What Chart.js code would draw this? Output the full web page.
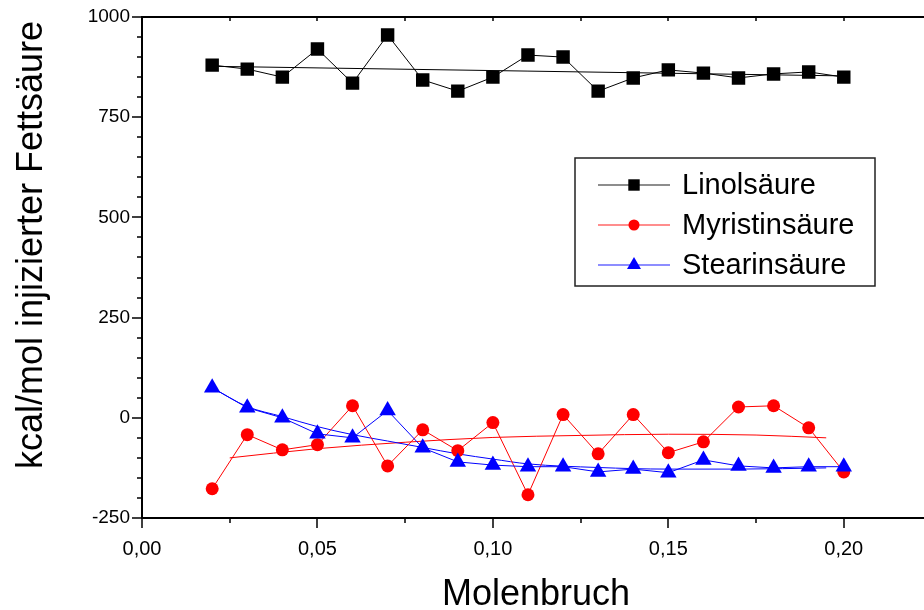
<!DOCTYPE html>
<html>
<head>
<meta charset="utf-8">
<script src="https://cdn.jsdelivr.net/npm/chart.js@4.4.0/dist/chart.umd.min.js"></script>
<style>
  html, body { margin: 0; padding: 0; background: #fff; overflow: hidden; }
  #chart { display: block; }
</style>
</head>
<body>
<canvas id="chart" width="941" height="610"></canvas>
<script>
const FONT = '"Liberation Sans", Arial, sans-serif';

// measured points
const molFraction = [0.02, 0.03, 0.04, 0.05, 0.06, 0.07, 0.08, 0.09, 0.10, 0.11,
                     0.12, 0.13, 0.14, 0.15, 0.16, 0.17, 0.18, 0.19, 0.20];
const linol    = [880, 870, 850, 920, 835, 955, 843, 815, 850, 905,
                  900, 815, 848, 868, 860, 848, 858, 863, 850];
const myristin = [-177, -42, -80, -67, 30, -120, -30, -82, -12, -192,
                  8, -90, 8, -87, -60, 27, 30, -25, -135];
const stearin  = [75, 25, 0, -40, -50, 18, -75, -110, -118, -122,
                  -122, -135, -128, -137, -105, -120, -125, -122, -122];

// fitted curves
const linolFitX = [0.02, 0.20];
const linolFitY = [877, 853];
const myristinFitX = [0.025, 0.05, 0.075, 0.10, 0.125, 0.15, 0.175, 0.195];
const myristinFitY = [-100, -77, -61, -49, -44, -41, -43, -50];
const stearinFitX = [0.02, 0.03, 0.04, 0.05, 0.06, 0.07, 0.08, 0.09, 0.10, 0.11, 0.13, 0.15, 0.17, 0.195];
const stearinFitY = [75, 28, 3, -22, -42, -58, -74, -90, -103, -115, -124, -128, -128, -125];

const seriesNames = ['Linolsäure', 'Myristinsäure', 'Stearinsäure'];
const xTitle = 'Molenbruch';
const yTitle = 'kcal/mol injizierter Fettsäure';

const pts = (xs, ys) => xs.map((x, i) => ({ x: x, y: ys[i] }));
const isMult = (v, step) => Math.abs(v / step - Math.round(v / step)) < 1e-6;

function dataset(label, xs, ys, color, style, radius, order) {
  return {
    label: label,
    data: pts(xs, ys),
    borderColor: color,
    backgroundColor: color,
    borderWidth: 1,
    pointStyle: style,
    pointRadius: radius,
    pointBorderWidth: 0,
    tension: 0,
    order: order
  };
}

function fitLine(xs, ys, color, order) {
  return {
    label: '',
    data: pts(xs, ys),
    borderColor: color,
    borderWidth: 1,
    pointRadius: 0,
    cubicInterpolationMode: 'monotone',
    order: order,
    isFit: true
  };
}

// axis lines, inner/outer ticks and titles
const framePlugin = {
  id: 'frame',
  afterDatasetsDraw(chart) {
    const { ctx, chartArea: a, scales: { x, y } } = chart;
    ctx.save();
    ctx.strokeStyle = '#000';
    ctx.lineWidth = 2;
    ctx.beginPath();
    ctx.moveTo(a.left, a.top - 1);
    ctx.lineTo(a.left, a.bottom + 1);
    ctx.moveTo(a.left - 1, a.bottom);
    ctx.lineTo(a.right, a.bottom);
    ctx.moveTo(a.left - 1, a.top);
    ctx.lineTo(a.right, a.top);
    ctx.stroke();

    ctx.lineWidth = 1.5;
    ctx.beginPath();
    y.ticks.forEach(t => {
      const py = Math.round(y.getPixelForValue(t.value));
      const len = isMult(t.value, 250) ? 10 : 5;
      ctx.moveTo(a.left - len, py);
      ctx.lineTo(a.left, py);
    });
    x.ticks.forEach(t => {
      const px = Math.round(x.getPixelForValue(t.value));
      const len = isMult(t.value, 0.05) ? 10 : 5;
      ctx.moveTo(px, a.bottom);
      ctx.lineTo(px, a.bottom + len);
      ctx.moveTo(px, a.top);
      ctx.lineTo(px, a.top + 4);
    });
    ctx.stroke();

    ctx.fillStyle = '#000';
    ctx.font = '36px ' + FONT;
    ctx.textAlign = 'center';
    ctx.textBaseline = 'alphabetic';
    ctx.fillText(xTitle, 536, 605);

    ctx.translate(42, 245);
    ctx.rotate(-Math.PI / 2);
    ctx.fillText(yTitle, 0, 0);
    ctx.restore();
  }
};

// boxed legend inside the plot
const legendBox = {
  id: 'legendBox',
  afterDraw(chart) {
    const { ctx } = chart;
    const box = { left: 575, top: 158, width: 300, height: 128 };
    ctx.save();
    ctx.fillStyle = '#fff';
    ctx.fillRect(box.left, box.top, box.width, box.height);
    ctx.strokeStyle = '#222';
    ctx.lineWidth = 1.5;
    ctx.strokeRect(box.left, box.top, box.width, box.height);

    ctx.font = '29px ' + FONT;
    ctx.textAlign = 'left';
    ctx.textBaseline = 'middle';
    const items = chart.data.datasets.filter(d => !d.isFit);
    items.forEach((d, i) => {
      const cy = box.top + 27 + i * 40;
      ctx.strokeStyle = d.borderColor;
      ctx.globalAlpha = 0.6;
      ctx.lineWidth = 1.5;
      ctx.beginPath();
      ctx.moveTo(box.left + 23, cy);
      ctx.lineTo(box.left + 95, cy);
      ctx.stroke();
      ctx.globalAlpha = 1;
      ctx.fillStyle = d.backgroundColor;
      Chart.helpers.drawPoint(ctx, {
        pointStyle: d.pointStyle,
        radius: d.pointRadius * 0.85,
        borderWidth: 0,
        rotation: 0
      }, box.left + 59, cy);
      ctx.fillStyle = '#000';
      ctx.fillText(d.label, box.left + 107, cy + 1);
    });
    ctx.restore();
  }
};

new Chart(document.getElementById('chart'), {
  type: 'line',
  data: {
    datasets: [
      dataset(seriesNames[0], molFraction, linol, '#000000', 'rect', 9.5, 3),
      dataset(seriesNames[1], molFraction, myristin, '#ff0000', 'circle', 6.5, 2),
      dataset(seriesNames[2], molFraction, stearin, '#0000ff', 'triangle', 9.5, 1),
      fitLine(linolFitX, linolFitY, '#000000', 6),
      fitLine(myristinFitX, myristinFitY, '#ff0000', 5),
      fitLine(stearinFitX, stearinFitY, '#0000ff', 4)
    ]
  },
  options: {
    responsive: false,
    animation: false,
    layout: { padding: { top: 17, left: 0, right: 0, bottom: 0 } },
    plugins: {
      legend: { display: false },
      tooltip: { enabled: false }
    },
    scales: {
      x: {
        type: 'linear',
        min: 0,
        max: 0.225,
        afterFit: s => { s.height = 92; s.paddingLeft = 0; s.paddingRight = 0; },
        grid: { display: false, drawTicks: false },
        border: { display: false },
        ticks: {
          stepSize: 0.025,
          autoSkip: false,
          maxRotation: 0,
          padding: 19,
          color: '#000',
          font: { family: FONT, size: 20 },
          callback: v => isMult(v, 0.05) ? v.toFixed(2).replace('.', ',') : ''
        }
      },
      y: {
        min: -250,
        max: 1000,
        afterFit: s => { s.width = 142; s.paddingTop = 0; s.paddingBottom = 0; },
        grid: { display: false, drawTicks: false },
        border: { display: false },
        ticks: {
          stepSize: 50,
          autoSkip: false,
          padding: 12,
          color: '#000',
          font: { family: FONT, size: 19 },
          callback: v => isMult(v, 250) ? String(v) : ''
        }
      }
    }
  },
  plugins: [framePlugin, legendBox]
});
</script>
</body>
</html>
